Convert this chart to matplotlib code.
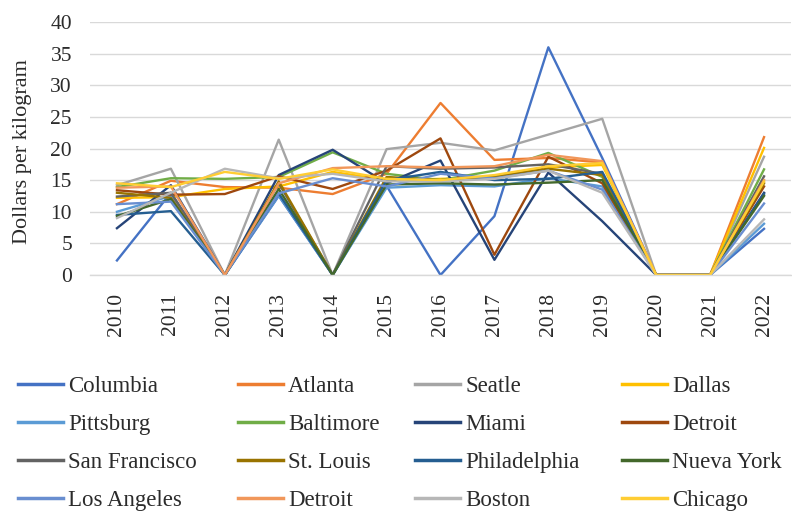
import matplotlib
matplotlib.use("Agg")
import matplotlib.pyplot as plt

years = ["2010", "2011", "2012", "2013", "2014", "2015", "2016",
         "2017", "2018", "2019", "2020", "2021", "2022"]

columbia      = [2.3, 13.0, 0, 12.5, 0, 14.1, 0, 9.3, 36.0, 18.5, 0, 0, 7.3]
atlanta       = [11.2, 14.9, 13.9, 13.8, 12.8, 16.0, 27.2, 18.2, 18.5, 17.8, 0, 0, 21.8]
seatle        = [14.2, 16.8, 0, 21.4, 0, 19.9, 20.9, 19.7, 22.2, 24.7, 0, 0, 18.7]
dallas        = [12.2, 12.3, 13.6, 14.0, 16.3, 15.0, 15.2, 15.5, 17.0, 17.4, 0, 0, 20.1]
pittsburg     = [10.0, 12.5, 0, 12.6, 0, 13.8, 14.2, 14.0, 15.3, 14.0, 0, 0, 8.1]
baltimore     = [13.9, 15.3, 15.2, 15.5, 19.4, 16.0, 15.0, 16.5, 19.3, 15.5, 0, 0, 16.7]
miami         = [7.4, 14.2, 0, 15.8, 19.8, 14.5, 18.1, 2.4, 16.2, 8.5, 0, 0, 13.0]
detroit       = [13.4, 12.7, 12.8, 15.6, 13.6, 16.5, 21.6, 3.2, 18.7, 14.5, 0, 0, 14.0]
san_francisco = [12.4, 13.0, 0, 14.5, 0, 17.2, 16.8, 17.0, 17.5, 16.0, 0, 0, 15.6]
st_louis      = [13.0, 12.2, 0, 14.8, 0, 15.5, 15.0, 15.6, 16.8, 15.8, 0, 0, 14.5]
philadelphia  = [9.5, 10.1, 0, 12.9, 0, 15.0, 16.3, 15.0, 15.2, 16.3, 0, 0, 12.8]
nueva_york    = [9.3, 12.0, 0, 13.6, 0, 14.3, 14.5, 14.3, 14.6, 15.0, 0, 0, 12.5]
los_angeles   = [11.2, 11.6, 0, 12.9, 15.3, 14.0, 16.0, 15.3, 16.5, 13.5, 0, 0, 11.3]
detroit2      = [13.8, 14.0, 0, 14.5, 16.9, 17.2, 17.0, 17.2, 19.0, 18.0, 0, 0, 15.0]
boston        = [9.0, 13.0, 16.8, 15.3, 16.0, 14.8, 14.8, 15.2, 16.5, 13.0, 0, 0, 8.8]
chicago       = [14.5, 13.9, 16.3, 15.2, 16.7, 15.2, 15.0, 15.8, 17.2, 17.7, 0, 0, 14.8]

names = ["Columbia", "Atlanta", "Seatle", "Dallas",
         "Pittsburg", "Baltimore", "Miami", "Detroit",
         "San Francisco", "St. Louis", "Philadelphia", "Nueva York",
         "Los Angeles", "Detroit", "Boston", "Chicago"]
series = [columbia, atlanta, seatle, dallas,
          pittsburg, baltimore, miami, detroit,
          san_francisco, st_louis, philadelphia, nueva_york,
          los_angeles, detroit2, boston, chicago]
colors = ["#4472C4", "#ED7D31", "#A5A5A5", "#FFC000",
          "#5B9BD5", "#70AD47", "#264478", "#9E480E",
          "#636363", "#997300", "#255E91", "#43682B",
          "#698ED0", "#F1975A", "#B7B7B7", "#FFCD33"]

plt.rcParams['font.family'] = ['Liberation Serif', 'DejaVu Serif']
txt = "#2b2b2b"
fs = 15.5
lfs = 16.5

fig = plt.figure(figsize=(7.92, 5.14), dpi=100)
W, H = 792, 514
ax = fig.add_axes([90 / W, 1 - 275 / H, (791 - 90) / W, (275 - 22) / H])

x = list(range(len(years)))
handles = []
for vals, name, c in zip(series, names, colors):
    ln, = ax.plot(x, vals, color=c, lw=1.7, label=name)
    handles.append(ln)

ax.set_xlim(-0.5, len(years) - 0.5)
ax.set_ylim(0, 40)
ax.set_yticks(range(0, 41, 5))
ax.set_xticks(x)
ax.set_xticklabels(years, rotation=90)
ax.tick_params(axis='both', length=0, labelsize=fs, labelcolor=txt)
ax.tick_params(axis='y', pad=13)
ax.tick_params(axis='x', pad=13)
ax.grid(axis='y', color='#D9D9D9', lw=1.0)
ax.set_axisbelow(True)
for s in ['top', 'right', 'left']:
    ax.spines[s].set_visible(False)
ax.spines['bottom'].set_color('#D9D9D9')
ax.spines['bottom'].set_linewidth(1.0)

fig.text(23 / W, 1 - 152 / H, "Dollars per kilogram", rotation=90,
         ha='center', va='center', fontsize=16, color=txt)

col_x = [18, 238, 415, 622]
for ci in range(4):
    idx = [ci, ci + 4, ci + 8, ci + 12]
    leg = fig.legend([handles[i] for i in idx], [names[i] for i in idx],
                     loc='upper left', bbox_to_anchor=(col_x[ci] / W, 1 - 376 / H),
                     frameon=False, fontsize=lfs, handlelength=1.97,
                     handletextpad=0.22, labelspacing=0.74, borderpad=0,
                     borderaxespad=0, labelcolor=txt)
    for l in leg.get_lines():
        l.set_linewidth(2.5)

fig.savefig("out.png", dpi=100)
